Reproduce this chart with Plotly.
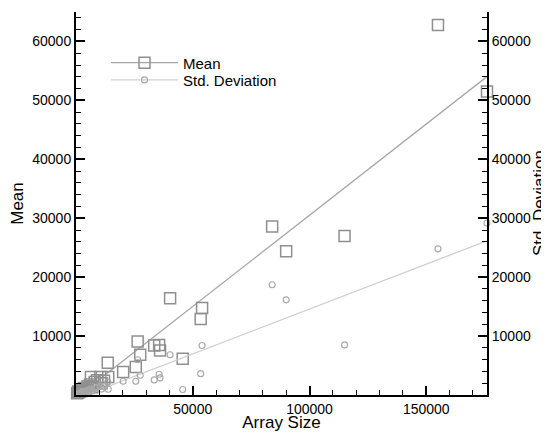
import plotly.graph_objects as go

# ---- data ----
array_size = [155000, 176000, 115000, 90000, 84000, 54000, 53400, 45700, 40300,
              36000, 35600, 33500, 27500, 26400, 25600, 20200, 13600, 13800, 10400, 6400,
              500, 800, 1000, 1500, 2000, 2500, 3000, 3500, 4000, 5000, 6000, 7000,
              8000, 9000, 11000, 12000]
mean_vals = [62800, 51500, 27000, 24400, 28600, 14750, 12900, 6150, 16400,
             7550, 8500, 8400, 6830, 9070, 4750, 3910, 5480, 3070, 3070, 3070,
             300, 400, 600, 500, 800, 700, 1000, 1200, 900, 1500, 1800, 1300,
             2200, 2500, 2000, 2400]
std_vals = [24800, 29200, 8500, 16150, 18700, 8400, 3620, 930, 6830,
            2900, 3510, 2560, 3340, 5990, 2330, 2330, 2220, 980, 1500, 1000,
            150, 200, 300, 250, 400, 350, 500, 600, 450, 800, 900, 700,
            1100, 1300, 1000, 1400]

# linear fits (slope, intercept)
mean_fit = (0.3096, -450)
std_fit = (0.1523, -640)
fit_x = [0, 176000]

x_ticks = [50000, 100000, 150000]
y_ticks = [10000, 20000, 30000, 40000, 50000, 60000]

mean_color = "#8f8f8f"
std_color = "#a8a8a8"
mean_line_color = "#a6a6a6"
std_line_color = "#cfcfcf"
FONT = "Liberation Sans, Arial, sans-serif"

fig = go.Figure()

fig.add_trace(go.Scatter(
    x=fit_x, y=[mean_fit[0] * v + mean_fit[1] for v in fit_x],
    mode="lines", line=dict(color=mean_line_color, width=1.3),
    showlegend=False, hoverinfo="skip"))
fig.add_trace(go.Scatter(
    x=fit_x, y=[std_fit[0] * v + std_fit[1] for v in fit_x],
    mode="lines", line=dict(color=std_line_color, width=1.3),
    showlegend=False, hoverinfo="skip", yaxis="y2"))

fig.add_trace(go.Scatter(
    x=array_size, y=mean_vals, mode="markers",
    marker=dict(symbol="square-open", size=11, color=mean_color,
                line=dict(width=1.5, color=mean_color)),
    showlegend=False, cliponaxis=False))
fig.add_trace(go.Scatter(
    x=array_size, y=std_vals, mode="markers", yaxis="y2",
    marker=dict(symbol="circle-open", size=6, color=std_color,
                line=dict(width=1.1, color=std_color)),
    showlegend=False, cliponaxis=False))

# legend entries
fig.add_trace(go.Scatter(
    x=[None], y=[None], mode="lines+markers", name="Mean", legend="legend",
    line=dict(color=mean_line_color, width=1.3),
    marker=dict(symbol="square-open", size=11, color=mean_color,
                line=dict(width=1.5, color=mean_color))))
fig.add_trace(go.Scatter(
    x=[None], y=[None], mode="lines+markers", name="Std. Deviation", legend="legend2",
    line=dict(color=std_line_color, width=1.3),
    marker=dict(symbol="circle-open", size=6, color=std_color,
                line=dict(width=1.1, color=std_color))))

axis_common = dict(
    showline=True, linecolor="black", linewidth=2,
    ticks="inside", ticklen=9, tickwidth=2, tickcolor="black",
    showgrid=False, zeroline=False, automargin=False,
    tickfont=dict(family=FONT, size=14, color="black"),
)
minor_common = dict(ticks="inside", ticklen=5, tickwidth=1, tickcolor="black",
                    tickmode="linear", tick0=0)

legend_common = dict(xanchor="left", yanchor="middle", bgcolor="rgba(0,0,0,0)",
                     itemwidth=67, font=dict(family=FONT, size=15, color="black"))

# the page body adds an 8px offset, so the figure is sized to fill the rest
fig.update_layout(
    width=541, height=424,
    margin=dict(l=68, r=62, t=4, b=37),
    paper_bgcolor="white", plot_bgcolor="white",
    font=dict(family=FONT, size=14, color="black"),
    xaxis=dict(
        range=[0, 176000], tickmode="array", tickvals=x_ticks,
        ticktext=[str(v) for v in x_ticks],
        minor=dict(dtick=10000, **minor_common),
        title=dict(text="Array Size", font=dict(size=17), standoff=0),
        **axis_common),
    yaxis=dict(
        range=[0, 65000], tickmode="array", tickvals=y_ticks,
        ticktext=[str(v) for v in y_ticks],
        minor=dict(dtick=2000, **minor_common),
        title=dict(text="Mean", font=dict(size=17), standoff=9),
        **axis_common),
    yaxis2=dict(
        range=[0, 65000], overlaying="y", side="right", anchor="x",
        tickmode="array", tickvals=y_ticks, ticktext=[str(v) for v in y_ticks],
        minor=dict(dtick=2000, **minor_common),
        **axis_common),
    annotations=[dict(
        text="Std. Deviation", textangle=-90, showarrow=False,
        xref="paper", yref="paper", x=1, y=0.5, xanchor="left", yanchor="middle",
        xshift=41, font=dict(family=FONT, size=17, color="black"))],
    legend=dict(x=0.073, y=0.867, **legend_common),
    legend2=dict(x=0.073, y=0.822, **legend_common),
    showlegend=True,
)

fig.write_html("out.html")
